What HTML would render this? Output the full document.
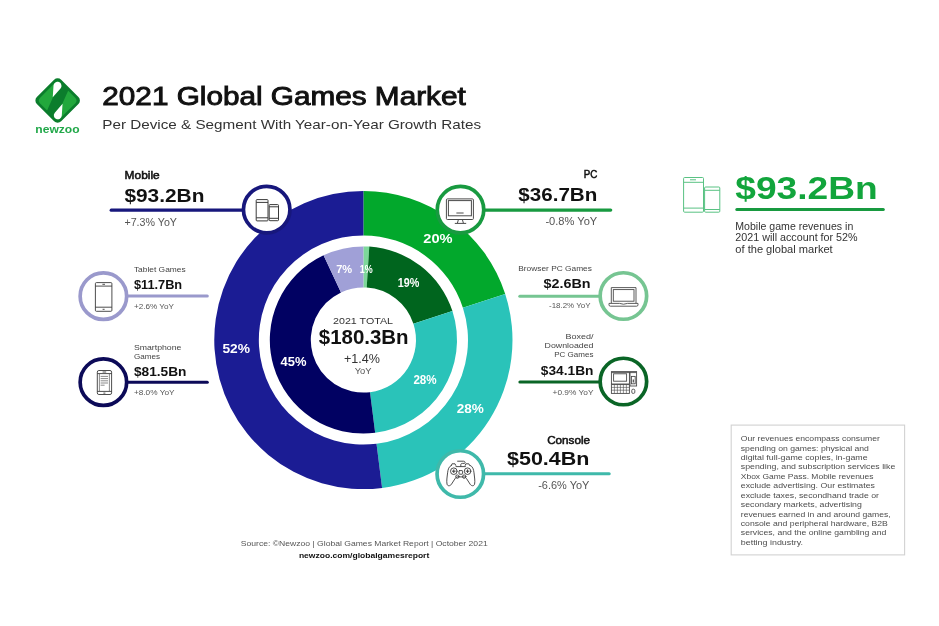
<!DOCTYPE html>
<html lang="en"><head><meta charset="utf-8"><title>2021 Global Games Market</title>
<style>
html,body{margin:0;padding:0;background:#fff;}
body{width:939px;height:626px;overflow:hidden;}
svg{display:block;}
svg text{font-family:"Liberation Sans",sans-serif;}
</style></head><body>
<svg width="939" height="626" viewBox="0 0 939 626">
<rect width="939" height="626" fill="#fff"/>
<g id="donut">
<path d="M363.40 190.90A149.1 149.1 0 0 1 505.20 293.93L462.88 307.68A104.6 104.6 0 0 0 363.40 235.40Z" fill="#02a82c"/>
<path d="M505.20 293.93A149.1 149.1 0 0 1 382.09 487.92L376.51 443.78A104.6 104.6 0 0 0 462.88 307.68Z" fill="#2ac3b9"/>
<path d="M382.09 487.92A149.1 149.1 0 1 1 363.40 190.90L363.40 235.40A104.6 104.6 0 1 0 376.51 443.78Z" fill="#1b1c94"/>
<path d="M363.40 246.40A93.6 93.6 0 0 1 369.28 246.58L366.70 287.50A52.6 52.6 0 0 0 363.40 287.40Z" fill="#7dd89a"/>
<path d="M369.28 246.58A93.6 93.6 0 0 1 452.42 311.08L413.43 323.75A52.6 52.6 0 0 0 366.70 287.50Z" fill="#00651e"/>
<path d="M452.42 311.08A93.6 93.6 0 0 1 375.13 432.86L369.99 392.19A52.6 52.6 0 0 0 413.43 323.75Z" fill="#2ac3b9"/>
<path d="M375.13 432.86A93.6 93.6 0 0 1 323.55 255.31L341.00 292.41A52.6 52.6 0 0 0 369.99 392.19Z" fill="#010162"/>
<path d="M323.55 255.31A93.6 93.6 0 0 1 363.40 246.40L363.40 287.40A52.6 52.6 0 0 0 341.00 292.41Z" fill="#a0a0d7"/>
</g>
<g id="shapes">
<path d="M111.20 210.2H243.40" stroke="#17177c" stroke-width="3.2" stroke-linecap="round" fill="none"/>
<path d="M484.60 210.1H610.70" stroke="#189a40" stroke-width="3.2" stroke-linecap="round" fill="none"/>
<path d="M127.50 296.1H207.30" stroke="#9a99cc" stroke-width="3" stroke-linecap="round" fill="none"/>
<path d="M127.50 382.2H207.30" stroke="#0c0a58" stroke-width="3" stroke-linecap="round" fill="none"/>
<path d="M519.80 296.2H599.50" stroke="#76c592" stroke-width="3" stroke-linecap="round" fill="none"/>
<path d="M519.90 382.0H599.50" stroke="#0a6526" stroke-width="3" stroke-linecap="round" fill="none"/>
<path d="M484.50 473.7H609.20" stroke="#3fb9aa" stroke-width="3" stroke-linecap="round" fill="none"/>
<path d="M736.80 209.6H883.30" stroke="#189a40" stroke-width="3" stroke-linecap="round" fill="none"/>
<circle cx="266.7" cy="209.6" r="23.25" fill="#fff" stroke="#17177c" stroke-width="3.7"/>
<circle cx="460.5" cy="209.7" r="23.25" fill="#fff" stroke="#189a40" stroke-width="3.7"/>
<circle cx="103.4" cy="296.2" r="23.25" fill="#fff" stroke="#9a99cc" stroke-width="3.7"/>
<circle cx="103.4" cy="382.2" r="23.25" fill="#fff" stroke="#0c0a58" stroke-width="3.7"/>
<circle cx="623.4" cy="296.0" r="23.25" fill="#fff" stroke="#76c592" stroke-width="3.7"/>
<circle cx="623.4" cy="381.5" r="23.25" fill="#fff" stroke="#0a6526" stroke-width="3.7"/>
<circle cx="460.3" cy="474" r="23.25" fill="#fff" stroke="#3fb9aa" stroke-width="3.7"/>
<rect x="731.2" y="425.1" width="173.4" height="129.8" fill="#fff" stroke="#d2d2d2" stroke-width="1.1"/>
</g>
<g id="icons">
<!-- logo -->
<g transform="translate(57.65 100.55)">
  <rect x="-17.2" y="-17.2" width="34.4" height="34.4" rx="5" transform="rotate(45)" fill="#0b7d2c"/>
  <rect x="-14.4" y="-14.4" width="28.8" height="28.8" rx="4" transform="rotate(45)" fill="#22a83c"/>
  <path d="M2.500 -19.500L11 -11L-2.500 19.500L-11 11Z" fill="#0b7d2c"/>
  <path d="M-4.900 -3.300L-4.140 -15A4 4 0 1 1 2.850 -12.100Z" fill="#fff"/>
  <path d="M4.900 3.300L4.140 15A4 4 0 1 1 -2.850 12.100Z" fill="#fff"/>
</g>
<!-- mobile icon (two phones) -->
<g fill="none" stroke="#3a3a3a" stroke-width="1">
  <rect x="256.2" y="199.6" width="11.8" height="21.3" rx="0.8"/>
  <path d="M256.2 202.4h11.8M256.2 217.8h11.8"/>
  <rect x="269.2" y="204.6" width="9.3" height="16.1" rx="0.8" fill="#fff"/>
  <path d="M269.2 206.8h9.3M269.2 218.3h9.3"/>
</g>
<!-- PC monitor -->
<g fill="none" stroke="#4a4a4a" stroke-width="1">
  <rect x="446.4" y="198.9" width="27" height="20.6" rx="1"/>
  <rect x="448.4" y="200.6" width="23" height="15.2"/>
  <path d="M458.4 219.6l-1 3.6M462.4 219.6l1 3.6M454.8 223.4h11.4M456.4 213h7.2" />
</g>
<!-- tablet -->
<g fill="none" stroke="#3a3a3a" stroke-width="0.9">
  <rect x="95.4" y="282.6" width="16.5" height="28.7" rx="1"/>
  <path d="M95.4 286.1h16.5M95.4 307.2h16.5M102.4 284.3h2.6M102.6 309.3h2"/>
</g>
<!-- smartphone -->
<g fill="none" stroke="#3a3a3a" stroke-width="0.9">
  <rect x="97.3" y="370.5" width="14.3" height="24" rx="1.6"/>
  <path d="M97.3 373.6h14.3M97.3 391.4h14.3M102.6 372h3.6M103.4 393.1h2"/>
  <path d="M99.4 374v17M109.4 374v17" stroke-width="0.6"/>
  <path d="M100.6 376.4h7.4M100.6 378.6h7.4M100.6 380.8h7.4M100.6 383h7.4M100.6 385.2h4" stroke-width="0.6"/>
</g>
<!-- laptop -->
<g fill="none" stroke="#4a4a4a" stroke-width="0.9">
  <path d="M611.3 303.2v-15.6h24.7v15.6"/>
  <rect x="613.3" y="289.6" width="20.7" height="11.6"/>
  <path d="M609 303.4h10.5q4 1.6 8 0h10.5v1.4q0 1.4-1.4 1.4h-26.2q-1.4 0-1.4-1.4z"/>
</g>
<!-- desktop -->
<g fill="none" stroke="#4a4a4a" stroke-width="0.9">
  <rect x="611.4" y="371.6" width="18" height="12.4"/>
  <rect x="613.6" y="373.8" width="13" height="7.4" fill="#fff"/>
  <path d="M611.4 372.6h25"/>
  <rect x="611.4" y="384.6" width="18" height="8.8"/>
  <path d="M611.4 387.4h18M611.4 390.2h18M614.4 384.6v8.8M617.4 384.6v8.8M620.4 384.6v8.8M623.4 384.6v8.8M626.4 384.6v8.8" stroke-width="0.6"/>
  <rect x="630" y="371.6" width="6.6" height="14.4"/>
  <rect x="631.4" y="376.4" width="3.8" height="7.4"/>
  <path d="M633.3 379.4v3" stroke-width="1.2"/>
  <rect x="631.8" y="389.2" width="3" height="4.2" rx="1.2"/>
</g>
<!-- gamepad -->
<g fill="none" stroke="#3a3a3a" stroke-width="0.9" stroke-linejoin="round" stroke-linecap="round">
  <path d="M451.4 465.4c-2.6 1-3.4 4-3.8 7.4c-.5 4.4-1.2 8.400-.6 11.200c.5 2.300 3 2.300 4.400.300l3.600-5.600c.8-1.200 1.600-1.800 3-1.800h5.600c1.400 0 2.200.6 3 1.800l3.600 5.600c1.400 2 3.900 2 4.400-.3c.6-2.800-.1-6.800-.6-11.200c-.4-3.400-1.200-6.400-3.800-7.400"/>
  <path d="M451.400 465.400l.6-1.600h3l.8 1.600M465.200 465.400l.6-1.600h3l.8 1.600"/>
  <path d="M456.000 466.600h9.400"/>
  <circle cx="453.800" cy="471.200" r="3.300"/>
  <circle cx="467.600" cy="471.200" r="3.300"/>
  <path d="M452.400 471.200h2.800M453.800 469.800v2.800M466.200 471.200h2.800M467.600 469.800v2.800" stroke-width="1"/>
  <circle cx="457.400" cy="476.600" r="1.700"/>
  <circle cx="464.200" cy="476.600" r="1.700"/>
  <rect x="459" y="470.600" width="3.600" height="3.600" rx=".6"/>
  <path d="M460.800 466.400v-1.600c0-1 .6-1.400 1.600-1.400h1.600c1 0 1.400-.6 1-1.400c-.4-.8-1.200-.8-2-.8h-5.400"/>
</g>
<!-- right panel phones -->
<g fill="none" stroke="#59c283" stroke-width="1">
  <rect x="683.6" y="177.500" width="19.900" height="34.700" rx="1"/>
  <path d="M683.600 182.300h19.900M683.600 208.100h19.900M690 179.800h6"/>
  <rect x="704.600" y="187" width="15.200" height="25.200" rx="1" fill="#fff"/>
  <path d="M704.600 190.300h15.200M704.600 209.500h15.200"/>
</g>

</g>
<g id="texts">
<text x="102.3" y="104.6" font-size="25" font-weight="normal" fill="#111" textLength="363.4" lengthAdjust="spacingAndGlyphs" stroke="#111" stroke-width="0.9">2021 Global Games Market</text>
<text x="102.3" y="129.1" font-size="13.5" font-weight="normal" fill="#333" textLength="378.8" lengthAdjust="spacingAndGlyphs">Per Device &amp; Segment With Year-on-Year Growth Rates</text>
<text x="35.3" y="132.9" font-size="10.6" font-weight="bold" fill="#22a84a" textLength="44.3" lengthAdjust="spacingAndGlyphs">newzoo</text>
<text x="124.6" y="178.6" font-size="10.4" font-weight="normal" fill="#111" textLength="35.1" lengthAdjust="spacingAndGlyphs" stroke="#111" stroke-width="0.5">Mobile</text>
<text x="124.4" y="202.2" font-size="19" font-weight="bold" fill="#111" textLength="80.0" lengthAdjust="spacingAndGlyphs">$93.2Bn</text>
<text x="124.4" y="226" font-size="10" font-weight="normal" fill="#555" textLength="52.6" lengthAdjust="spacingAndGlyphs">+7.3% YoY</text>
<text x="133.9" y="271.7" font-size="7.5" font-weight="normal" fill="#444" textLength="51.8" lengthAdjust="spacingAndGlyphs">Tablet Games</text>
<text x="133.9" y="288.8" font-size="13.3" font-weight="bold" fill="#111" textLength="48.3" lengthAdjust="spacingAndGlyphs">$11.7Bn</text>
<text x="133.9" y="309.2" font-size="7.3" font-weight="normal" fill="#555" textLength="40.1" lengthAdjust="spacingAndGlyphs">+2.6% YoY</text>
<text x="133.9" y="349.7" font-size="7.5" font-weight="normal" fill="#444" textLength="47.5" lengthAdjust="spacingAndGlyphs">Smartphone</text>
<text x="133.9" y="358.6" font-size="7.5" font-weight="normal" fill="#444" textLength="26.1" lengthAdjust="spacingAndGlyphs">Games</text>
<text x="133.9" y="375.5" font-size="13.3" font-weight="bold" fill="#111" textLength="52.6" lengthAdjust="spacingAndGlyphs">$81.5Bn</text>
<text x="133.9" y="394.7" font-size="7.3" font-weight="normal" fill="#555" textLength="40.6" lengthAdjust="spacingAndGlyphs">+8.0% YoY</text>
<text x="583.7" y="178.4" font-size="10.4" font-weight="normal" fill="#111" textLength="13.6" lengthAdjust="spacingAndGlyphs" stroke="#111" stroke-width="0.5">PC</text>
<text x="518.3" y="201.2" font-size="19" font-weight="bold" fill="#111" textLength="79.0" lengthAdjust="spacingAndGlyphs">$36.7Bn</text>
<text x="545.4" y="225.0" font-size="10" font-weight="normal" fill="#555" textLength="51.9" lengthAdjust="spacingAndGlyphs">-0.8% YoY</text>
<text x="518.3" y="270.8" font-size="7.5" font-weight="normal" fill="#444" textLength="73.6" lengthAdjust="spacingAndGlyphs">Browser PC Games</text>
<text x="543.5" y="288.2" font-size="13.3" font-weight="bold" fill="#111" textLength="47.0" lengthAdjust="spacingAndGlyphs">$2.6Bn</text>
<text x="549" y="308" font-size="7.3" font-weight="normal" fill="#555" textLength="41.5" lengthAdjust="spacingAndGlyphs">-18.2% YoY</text>
<text x="565.4" y="338.5" font-size="7.5" font-weight="normal" fill="#444" textLength="28.1" lengthAdjust="spacingAndGlyphs">Boxed/</text>
<text x="544.6" y="348.1" font-size="7.5" font-weight="normal" fill="#444" textLength="48.9" lengthAdjust="spacingAndGlyphs">Downloaded</text>
<text x="554.2" y="357.4" font-size="7.5" font-weight="normal" fill="#444" textLength="39.3" lengthAdjust="spacingAndGlyphs">PC Games</text>
<text x="540.8" y="375" font-size="13.3" font-weight="bold" fill="#111" textLength="52.7" lengthAdjust="spacingAndGlyphs">$34.1Bn</text>
<text x="552.6" y="394.5" font-size="7.3" font-weight="normal" fill="#555" textLength="40.9" lengthAdjust="spacingAndGlyphs">+0.9% YoY</text>
<text x="547.2" y="444.4" font-size="10.4" font-weight="normal" fill="#111" textLength="42.8" lengthAdjust="spacingAndGlyphs" stroke="#111" stroke-width="0.5">Console</text>
<text x="507" y="465.4" font-size="19" font-weight="bold" fill="#111" textLength="82.4" lengthAdjust="spacingAndGlyphs">$50.4Bn</text>
<text x="538.2" y="489.4" font-size="10" font-weight="normal" fill="#555" textLength="51.2" lengthAdjust="spacingAndGlyphs">-6.6% YoY</text>
<text x="222.4" y="353.2" font-size="13" font-weight="bold" fill="#fff" textLength="27.6" lengthAdjust="spacingAndGlyphs">52%</text>
<text x="280.5" y="365.8" font-size="13" font-weight="bold" fill="#fff" textLength="25.9" lengthAdjust="spacingAndGlyphs">45%</text>
<text x="423.3" y="242.8" font-size="13" font-weight="bold" fill="#fff" textLength="29.3" lengthAdjust="spacingAndGlyphs">20%</text>
<text x="397.8" y="286.6" font-size="12" font-weight="bold" fill="#fff" textLength="21.6" lengthAdjust="spacingAndGlyphs">19%</text>
<text x="336.2" y="272.6" font-size="11.5" font-weight="bold" fill="#fff" textLength="16.0" lengthAdjust="spacingAndGlyphs">7%</text>
<text x="359.8" y="272.6" font-size="11.5" font-weight="bold" fill="#fff" textLength="12.9" lengthAdjust="spacingAndGlyphs">1%</text>
<text x="456.8" y="412.7" font-size="13" font-weight="bold" fill="#fff" textLength="27.1" lengthAdjust="spacingAndGlyphs">28%</text>
<text x="413.4" y="383.6" font-size="12" font-weight="bold" fill="#fff" textLength="23.3" lengthAdjust="spacingAndGlyphs">28%</text>
<text x="333" y="323.7" font-size="9.6" font-weight="normal" fill="#333" textLength="60.0" lengthAdjust="spacingAndGlyphs">2021 TOTAL</text>
<text x="318.8" y="344" font-size="19.5" font-weight="bold" fill="#111" textLength="89.8" lengthAdjust="spacingAndGlyphs">$180.3Bn</text>
<text x="344" y="362.8" font-size="13" font-weight="normal" fill="#333" textLength="36.0" lengthAdjust="spacingAndGlyphs">+1.4%</text>
<text x="354.7" y="374" font-size="9" font-weight="normal" fill="#555" textLength="16.8" lengthAdjust="spacingAndGlyphs">YoY</text>
<text x="735.3" y="198.7" font-size="31" font-weight="bold" fill="#12a53c" textLength="142.4" lengthAdjust="spacingAndGlyphs">$93.2Bn</text>
<text x="735.3" y="229.6" font-size="10" font-weight="normal" fill="#333" textLength="118.0" lengthAdjust="spacingAndGlyphs">Mobile game revenues in</text>
<text x="735.3" y="241.1" font-size="10" font-weight="normal" fill="#333" textLength="122.3" lengthAdjust="spacingAndGlyphs">2021 will account for 52%</text>
<text x="735.3" y="252.5" font-size="10" font-weight="normal" fill="#333" textLength="97.4" lengthAdjust="spacingAndGlyphs">of the global market</text>
<text x="740.8" y="441.2" font-size="7.5" font-weight="normal" fill="#4d4d4d" textLength="139.0" lengthAdjust="spacingAndGlyphs">Our revenues encompass consumer</text>
<text x="740.8" y="450.62" font-size="7.5" font-weight="normal" fill="#4d4d4d" textLength="128.1" lengthAdjust="spacingAndGlyphs">spending on games: physical and</text>
<text x="740.8" y="460.04" font-size="7.5" font-weight="normal" fill="#4d4d4d" textLength="126.8" lengthAdjust="spacingAndGlyphs">digital full-game copies, in-game</text>
<text x="740.8" y="469.46" font-size="7.5" font-weight="normal" fill="#4d4d4d" textLength="154.5" lengthAdjust="spacingAndGlyphs">spending, and subscription services like</text>
<text x="740.8" y="478.88" font-size="7.5" font-weight="normal" fill="#4d4d4d" textLength="132.7" lengthAdjust="spacingAndGlyphs">Xbox Game Pass. Mobile revenues</text>
<text x="740.8" y="488.3" font-size="7.5" font-weight="normal" fill="#4d4d4d" textLength="134.1" lengthAdjust="spacingAndGlyphs">exclude advertising. Our estimates</text>
<text x="740.8" y="497.72" font-size="7.5" font-weight="normal" fill="#4d4d4d" textLength="138.2" lengthAdjust="spacingAndGlyphs">exclude taxes, secondhand trade or</text>
<text x="740.8" y="507.14" font-size="7.5" font-weight="normal" fill="#4d4d4d" textLength="121.0" lengthAdjust="spacingAndGlyphs">secondary markets, advertising</text>
<text x="740.8" y="516.56" font-size="7.5" font-weight="normal" fill="#4d4d4d" textLength="149.9" lengthAdjust="spacingAndGlyphs">revenues earned in and around games,</text>
<text x="740.8" y="525.98" font-size="7.5" font-weight="normal" fill="#4d4d4d" textLength="147.1" lengthAdjust="spacingAndGlyphs">console and peripheral hardware, B2B</text>
<text x="740.8" y="535.4" font-size="7.5" font-weight="normal" fill="#4d4d4d" textLength="145.5" lengthAdjust="spacingAndGlyphs">services, and the online gambling and</text>
<text x="740.8" y="544.82" font-size="7.5" font-weight="normal" fill="#4d4d4d" textLength="62.1" lengthAdjust="spacingAndGlyphs">betting industry.</text>
<text x="240.8" y="545.6" font-size="7.5" font-weight="normal" fill="#555" textLength="246.9" lengthAdjust="spacingAndGlyphs">Source: ©Newzoo | Global Games Market Report | October 2021</text>
<text x="298.9" y="557.7" font-size="7.8" font-weight="bold" fill="#111" textLength="130.4" lengthAdjust="spacingAndGlyphs">newzoo.com/globalgamesreport</text>
</g>
</svg>
</body></html>
